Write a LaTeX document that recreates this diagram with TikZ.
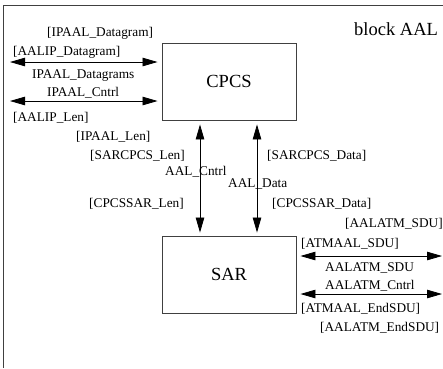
\documentclass[tikz,border=0pt]{standalone}
\usepackage{fontspec}
\setmainfont{Liberation Serif}
\usetikzlibrary{arrows.meta}

\begin{document}
\begin{tikzpicture}[x=1pt,y=-1pt,
		blk/.style={draw=black!75,line width=0.9pt,minimum width=134pt,minimum height=77pt,inner sep=0pt,font=\fontsize{18.5}{20}\selectfont},
		lbl/.style={anchor=west,inner sep=0pt,text height=9pt,text depth=0pt,font=\fontsize{13.3}{15}\selectfont},
		sig/.style={{Triangle[length=15pt,width=8.5pt]}-{Triangle[length=15pt,width=8.5pt]},line width=0.8pt}]
			\useasboundingbox (0,0) rectangle (443,368);
			\draw[black!75,line width=0.9pt] (443,5) -| (3,368);
			% blocks
			\node[blk] (cpcs) at (229,81.5) {CPCS};
			\node[blk] (sar) at (229,274.5) {SAR};
			\node[anchor=west,inner sep=0pt,font=\fontsize{18.5}{20}\selectfont] (blockaal) at (354,29) {block AAL};
			% signal routes
			\coordinate (ipdg) at (10,62);
			\coordinate (ipctl) at (10,101);
			\coordinate (atmsdu) at (442,256);
			\coordinate (atmctl) at (442,294);
			\draw[sig,shorten >=4pt] (ipdg) -- (ipdg -| cpcs.west);
			\draw[sig,shorten >=4pt] (ipctl) -- (ipctl -| cpcs.west);
			\draw[sig,shorten <=4pt,shorten >=3pt] ([xshift=-29pt]cpcs.south) -- ([xshift=-29pt]sar.north);
			\draw[sig,shorten <=4pt,shorten >=3pt] ([xshift=28pt]cpcs.south) -- ([xshift=28pt]sar.north);
			\draw[sig,shorten <=4pt] (atmsdu -| sar.east) -- (atmsdu);
			\draw[sig,shorten <=4pt] (atmctl -| sar.east) -- (atmctl);
			% signal lists
			\node[lbl] (ipaaldg) at (47,32) {[IPAAL\_Datagram]};
			\node[lbl] (aalipdg) at (13,51) {[AALIP\_Datagram]};
			\node[lbl] (ipaaldgs) at (32,74) {IPAAL\_Datagrams};
			\node[lbl] (ipaalctl) at (47,92) {IPAAL\_Cntrl};
			\node[lbl] (aaliplen) at (13,117) {[AALIP\_Len]};
			\node[lbl] (ipaallen) at (76,136) {[IPAAL\_Len]};
			\node[lbl] (sarcpcslen) at (90,155) {[SARCPCS\_Len]};
			\node[lbl] (aalctl) at (165,171) {AAL\_Cntrl};
			\node[lbl] (cpcssarlen) at (89,203) {[CPCSSAR\_Len]};
			\node[lbl] (aaldata) at (228,183) {AAL\_Data};
			\node[lbl] (sarcpcsdata) at (267,155) {[SARCPCS\_Data]};
			\node[lbl] (cpcssardata) at (272,203) {[CPCSSAR\_Data]};
			\node[lbl] (aalatmsdu) at (345,223) {[AALATM\_SDU]};
			\node[lbl] (atmaalsdu) at (301,243) {[ATMAAL\_SDU]};
			\node[lbl] (aalatmsdus) at (325,267) {AALATM\_SDU};
			\node[lbl] (aalatmctl) at (325,285) {AALATM\_Cntrl};
			\node[lbl] (atmaalend) at (301,308) {[ATMAAL\_EndSDU]};
			\node[lbl] (aalatmend) at (320,327) {[AALATM\_EndSDU]};
		\end{tikzpicture}
\end{document}
